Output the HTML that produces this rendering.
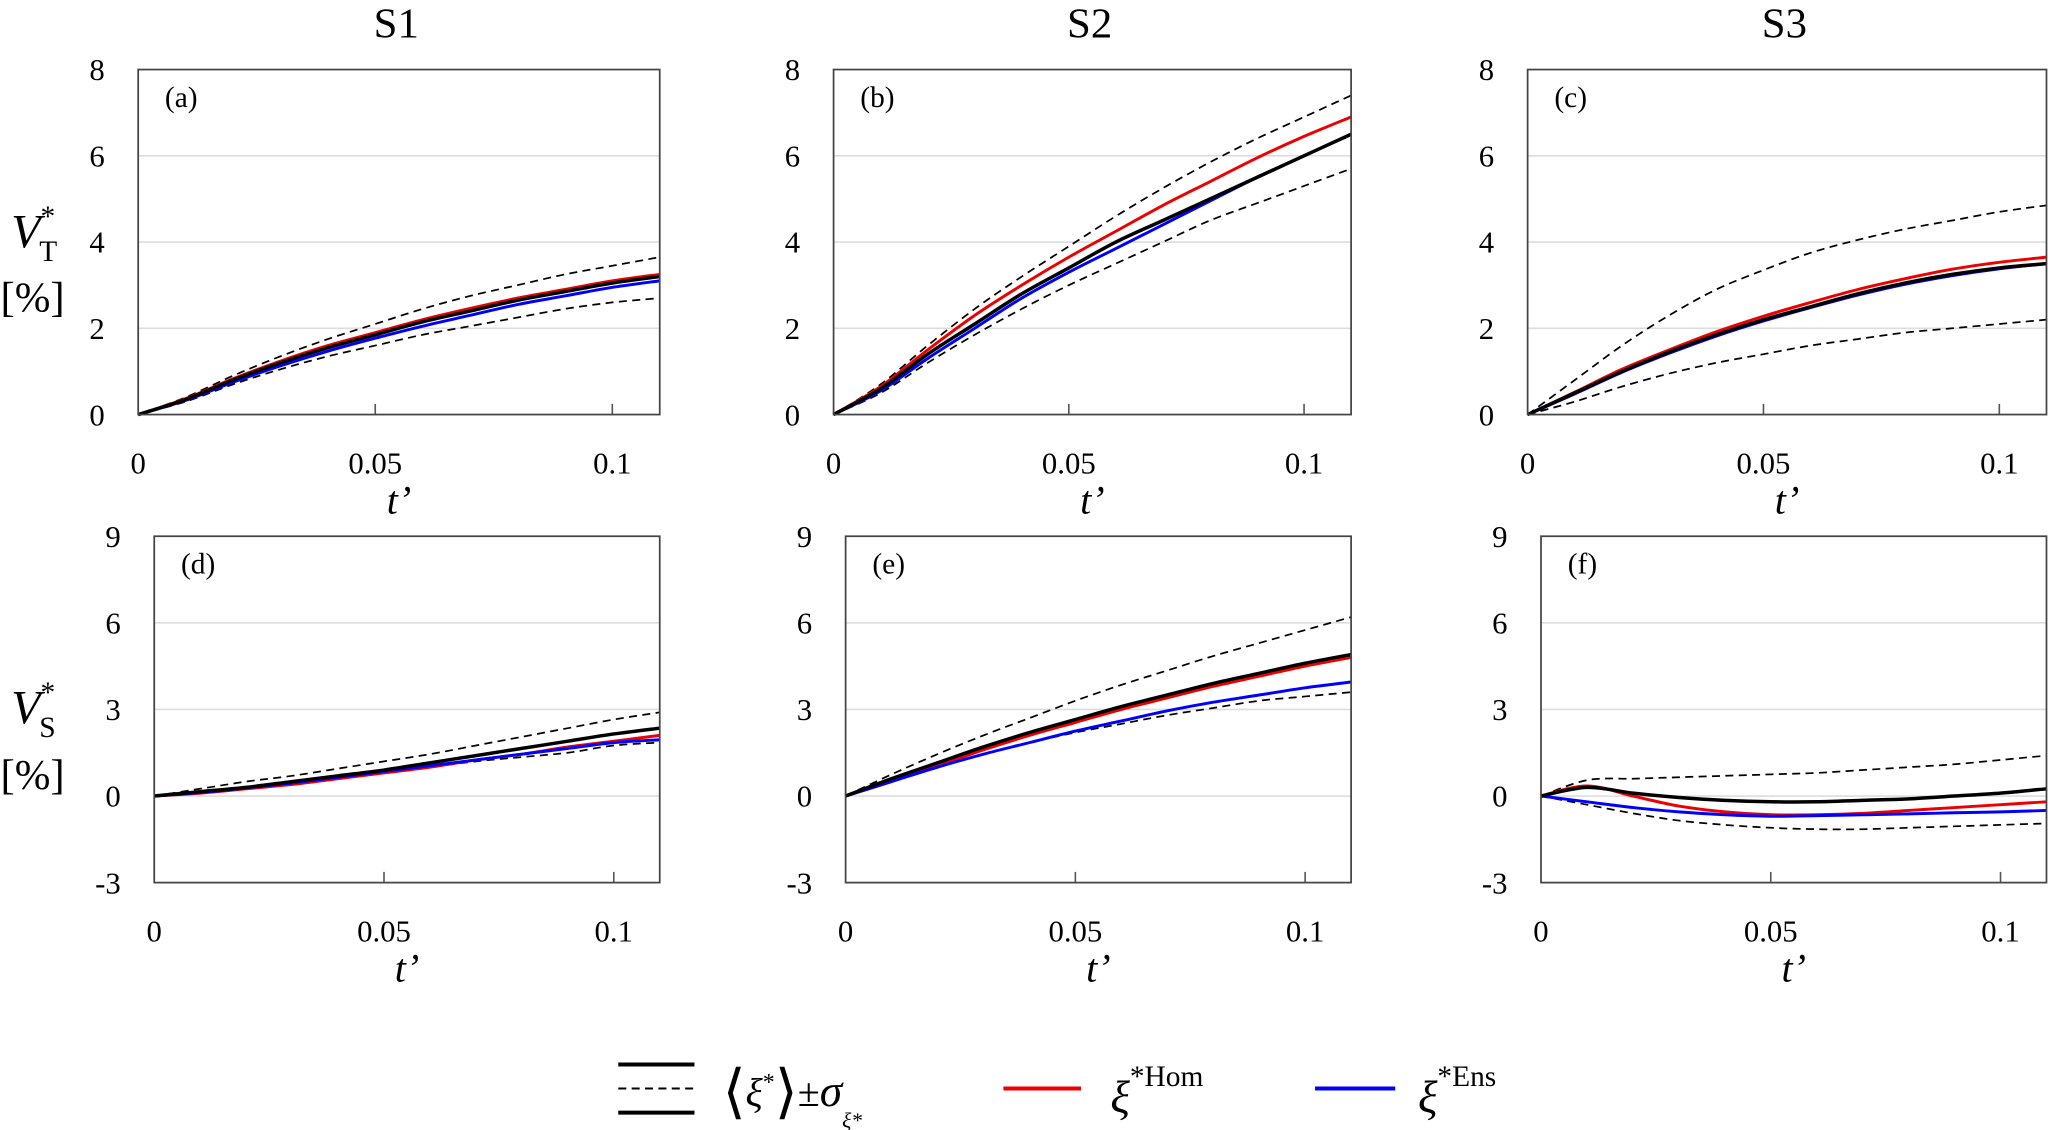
<!DOCTYPE html>
<html><head><meta charset="utf-8"><style>
html,body{margin:0;padding:0;background:#fff;}
svg{display:block;font-family:"Liberation Serif",serif;}
</style></head><body>
<svg id="fig" width="2067" height="1130" viewBox="0 0 1545 845" xmlns="http://www.w3.org/2000/svg">
<g id="root"></g>
<g>
<line x1="462" y1="796" x2="519" y2="796" stroke="#000" stroke-width="3"/>
<line x1="462" y1="814" x2="519" y2="814" stroke="#000" stroke-width="1.5" stroke-dasharray="6,4"/>
<line x1="462" y1="832" x2="519" y2="832" stroke="#000" stroke-width="3"/>
<text x="540" y="827" font-size="30"><tspan font-size="44" dy="4">⟨</tspan><tspan font-style="italic" dy="-4">ξ</tspan><tspan dy="-12" font-size="18">*</tspan><tspan dy="16" font-size="44">⟩</tspan><tspan dy="-4">±</tspan><tspan font-style="italic" font-size="34">σ</tspan><tspan dy="16" font-size="16" font-style="italic">ξ*</tspan></text>
<line x1="750" y1="814" x2="808" y2="814" stroke="#e00" stroke-width="3"/>
<text x="830" y="832" font-size="34" font-style="italic">ξ<tspan dy="-20" font-size="22" font-style="normal">*Hom</tspan></text>
<line x1="983" y1="814" x2="1043" y2="814" stroke="#00f" stroke-width="3"/>
<text x="1060" y="832" font-size="34" font-style="italic">ξ<tspan dy="-20" font-size="22" font-style="normal">*Ens</tspan></text>
</g>
</svg>
<script>
const tVals=[0,0.01,0.02,0.03,0.04,0.05,0.06,0.07,0.08,0.09,0.1,0.11];
const aMean=[0,0.35,0.8,1.2,1.55,1.85,2.15,2.4,2.65,2.85,3.05,3.2];
const aHom=[0,0.37,0.83,1.24,1.6,1.9,2.2,2.46,2.7,2.9,3.1,3.25];
const aEns=[0,0.33,0.75,1.13,1.47,1.77,2.05,2.3,2.55,2.75,2.95,3.1];
const aUp=[0,0.4,0.9,1.35,1.75,2.1,2.45,2.75,3.0,3.25,3.45,3.65];
const aLo=[0,0.3,0.7,1.05,1.35,1.6,1.85,2.05,2.25,2.45,2.6,2.7];
const bMean=[0,0.6,1.4,2.1,2.8,3.4,4.0,4.5,5.0,5.5,6.0,6.5];
const bHom=[0,0.65,1.5,2.3,3.0,3.65,4.25,4.85,5.4,5.95,6.45,6.9];
const bEns=[0,0.55,1.3,2.0,2.7,3.3,3.85,4.4,4.95,5.5,6.0,6.5];
const bUp=[0,0.7,1.6,2.45,3.2,3.9,4.6,5.25,5.85,6.4,6.9,7.4];
const bLo=[0,0.5,1.2,1.85,2.45,3.0,3.5,4.0,4.5,4.9,5.3,5.7];
const cMean=[0,0.5,1.0,1.45,1.85,2.2,2.5,2.8,3.05,3.25,3.4,3.5];
const cHom=[0,0.52,1.05,1.5,1.92,2.28,2.6,2.9,3.15,3.37,3.53,3.65];
const cEns=[0,0.48,0.98,1.42,1.82,2.17,2.48,2.77,3.02,3.22,3.38,3.5];
const cUp=[0,0.8,1.6,2.3,2.9,3.35,3.75,4.05,4.3,4.5,4.7,4.85];
const cLo=[0,0.3,0.65,0.95,1.2,1.4,1.6,1.75,1.9,2.0,2.1,2.2];
const dMean=[0,0.15,0.3,0.5,0.7,0.9,1.15,1.4,1.65,1.9,2.15,2.35];
const dHom=[0,0.1,0.25,0.4,0.6,0.8,1.0,1.25,1.45,1.7,1.9,2.1];
const dEns=[0,0.12,0.28,0.45,0.65,0.85,1.05,1.25,1.45,1.65,1.85,1.95];
const dUp=[0,0.25,0.5,0.7,0.95,1.2,1.45,1.75,2.05,2.35,2.65,2.9];
const dLo=[0,0.1,0.25,0.45,0.6,0.8,1.0,1.2,1.35,1.5,1.75,1.85];
const eMean=[0,0.6,1.15,1.7,2.2,2.65,3.1,3.5,3.9,4.25,4.6,4.9];
const eHom=[0,0.5,1.05,1.6,2.1,2.55,3.0,3.4,3.8,4.15,4.5,4.8];
const eEns=[0,0.5,1.0,1.45,1.85,2.25,2.6,2.95,3.25,3.5,3.75,3.95];
const eUp=[0,0.75,1.45,2.1,2.7,3.3,3.85,4.35,4.85,5.3,5.75,6.2];
const eLo=[0,0.5,1.0,1.45,1.85,2.2,2.5,2.8,3.05,3.3,3.45,3.6];
const fMean=[0,0.3,0.1,-0.05,-0.15,-0.2,-0.2,-0.15,-0.1,0,0.1,0.25];
const fHom=[0,0.35,0,-0.35,-0.55,-0.65,-0.65,-0.6,-0.5,-0.4,-0.3,-0.2];
const fEns=[0,-0.2,-0.4,-0.55,-0.65,-0.7,-0.68,-0.65,-0.62,-0.58,-0.55,-0.5];
const fUp=[0,0.55,0.6,0.65,0.7,0.75,0.8,0.9,1.0,1.1,1.25,1.4];
const fLo=[0,-0.3,-0.6,-0.85,-1.0,-1.1,-1.15,-1.15,-1.1,-1.05,-1.0,-0.95];
const xTicks=[0,0.05,0.1];
const xTickLabels=["0","0.05","0.1"];
const yTicksTop=[0,2,4,6,8];
const yTicksBot=[-3,0,3,6,9];
const colTitles=["S1","S2","S3"];
const panelLetters=["(a)","(b)","(c)","(d)","(e)","(f)"];

const NS="http://www.w3.org/2000/svg";
const root=document.getElementById('root');
function mk(tag,attrs,parent){const e=document.createElementNS(NS,tag);for(const k in attrs)e.setAttribute(k,attrs[k]);(parent||root).appendChild(e);return e;}
const panels=[
 {x0:103,x1:493,y0:52,y1:310,ymin:0,ymax:8,ticks:yTicksTop,s:[aUp,aLo,aMean,aHom,aEns]},
 {x0:623,x1:1010,y0:52,y1:310,ymin:0,ymax:8,ticks:yTicksTop,s:[bUp,bLo,bMean,bHom,bEns]},
 {x0:1142,x1:1530,y0:52,y1:310,ymin:0,ymax:8,ticks:yTicksTop,s:[cUp,cLo,cMean,cHom,cEns]},
 {x0:115,x1:493,y0:401,y1:660,ymin:-3,ymax:9,ticks:yTicksBot,s:[dUp,dLo,dMean,dHom,dEns]},
 {x0:632,x1:1010,y0:401,y1:660,ymin:-3,ymax:9,ticks:yTicksBot,s:[eUp,eLo,eMean,eHom,eEns]},
 {x0:1152,x1:1530,y0:401,y1:660,ymin:-3,ymax:9,ticks:yTicksBot,s:[fUp,fLo,fMean,fHom,fEns]}
];
const styles=[
 {c:"#000",w:1.3,d:"6,4",n:"upper-sigma"},
 {c:"#000",w:1.3,d:"6,4",n:"lower-sigma"},
 {c:"#000",w:2.6,d:"",n:"ensemble-mean"},
 {c:"#e00",w:2.2,d:"",n:"hom-line"},
 {c:"#00f",w:2.2,d:"",n:"ens-line"}
];
const drawOrder=[0,1,3,4,2];
function pathFrom(pts){let d="M"+pts[0][0]+","+pts[0][1];
 for(let i=0;i<pts.length-1;i++){const p0=pts[Math.max(0,i-1)],p1=pts[i],p2=pts[i+1],p3=pts[Math.min(pts.length-1,i+2)];
 const c1=[p1[0]+(p2[0]-p0[0])/6,p1[1]+(p2[1]-p0[1])/6],c2=[p2[0]-(p3[0]-p1[0])/6,p2[1]-(p3[1]-p1[1])/6];
 d+=" C"+c1[0].toFixed(2)+","+c1[1].toFixed(2)+" "+c2[0].toFixed(2)+","+c2[1].toFixed(2)+" "+p2[0].toFixed(2)+","+p2[1].toFixed(2);}
 return d;}
panels.forEach((p,pi)=>{
 const g=mk('g',{});
 
 
 const X=t=>p.x0+(p.x1-p.x0)*t/0.11;
 const Y=v=>p.y1-(p.y1-p.y0)*(v-p.ymin)/(p.ymax-p.ymin);
 p.ticks.forEach(v=>{
  if(v!==p.ymin&&v!==p.ymax){const gl=mk('line',{x1:p.x0,x2:p.x1,y1:Y(v),y2:Y(v),stroke:"#ddd","stroke-width":1.2},g);
   
   }
  const tl=mk('text',{x:p.x0-25,y:Y(v)+8,"font-size":23,"text-anchor":"end"},g);
  
  
  tl.textContent=String(v);
 });
 xTicks.forEach((t,i)=>{
  if(t>0){const tk=mk('line',{x1:X(t),x2:X(t),y1:p.y1,y2:p.y1-8,stroke:"#555","stroke-width":1.2},g);
   
   }
  const tl=mk('text',{x:X(t),y:p.y1+44,"font-size":23,"text-anchor":"middle"},g);
  
  
  tl.textContent=xTickLabels[i];
 });
 const xt=mk('text',{x:(p.x0+p.x1)/2,y:p.y1+74,"font-size":30,"font-style":"italic","text-anchor":"middle"},g);
 
 
 xt.textContent="t’";
 drawOrder.forEach(si=>{
  const arr=p.s[si],st=styles[si];
  const pts=tVals.map((t,i)=>[X(t),Y(arr[i])]);
  const pa=mk('path',{d:pathFrom(pts),fill:"none",stroke:st.c,"stroke-width":st.w},g);
  if(st.d)pa.setAttribute('stroke-dasharray',st.d);
  
  
 });
 const fr=mk('rect',{x:p.x0,y:p.y0,width:p.x1-p.x0,height:p.y1-p.y0,fill:"none",stroke:"#444","stroke-width":1.3},g);
 
 
 const lt=mk('text',{x:p.x0+20,y:p.y0+28,"font-size":22},g);
 
 
 lt.textContent=panelLetters[pi];
 if(pi<3){const ct=mk('text',{x:(p.x0+p.x1)/2-2,y:28,"font-size":32,"text-anchor":"middle"});
  
  
  ct.textContent=colTitles[pi];}
});
[["T",185,233],["S",541,590]].forEach(([sub,yv,yp])=>{
 const t=mk('text',{x:8,y:yv,"font-size":36,"font-style":"italic"});
 
 
 t.innerHTML='V<tspan dy="-16" font-size="22" font-style="normal">*</tspan><tspan dx="-12" dy="26" font-size="22" font-style="normal">'+sub+'</tspan>';
 const u=mk('text',{x:0,y:yp,"font-size":32});
 
 
 u.textContent="[%]";
});
</script>
</body></html>
